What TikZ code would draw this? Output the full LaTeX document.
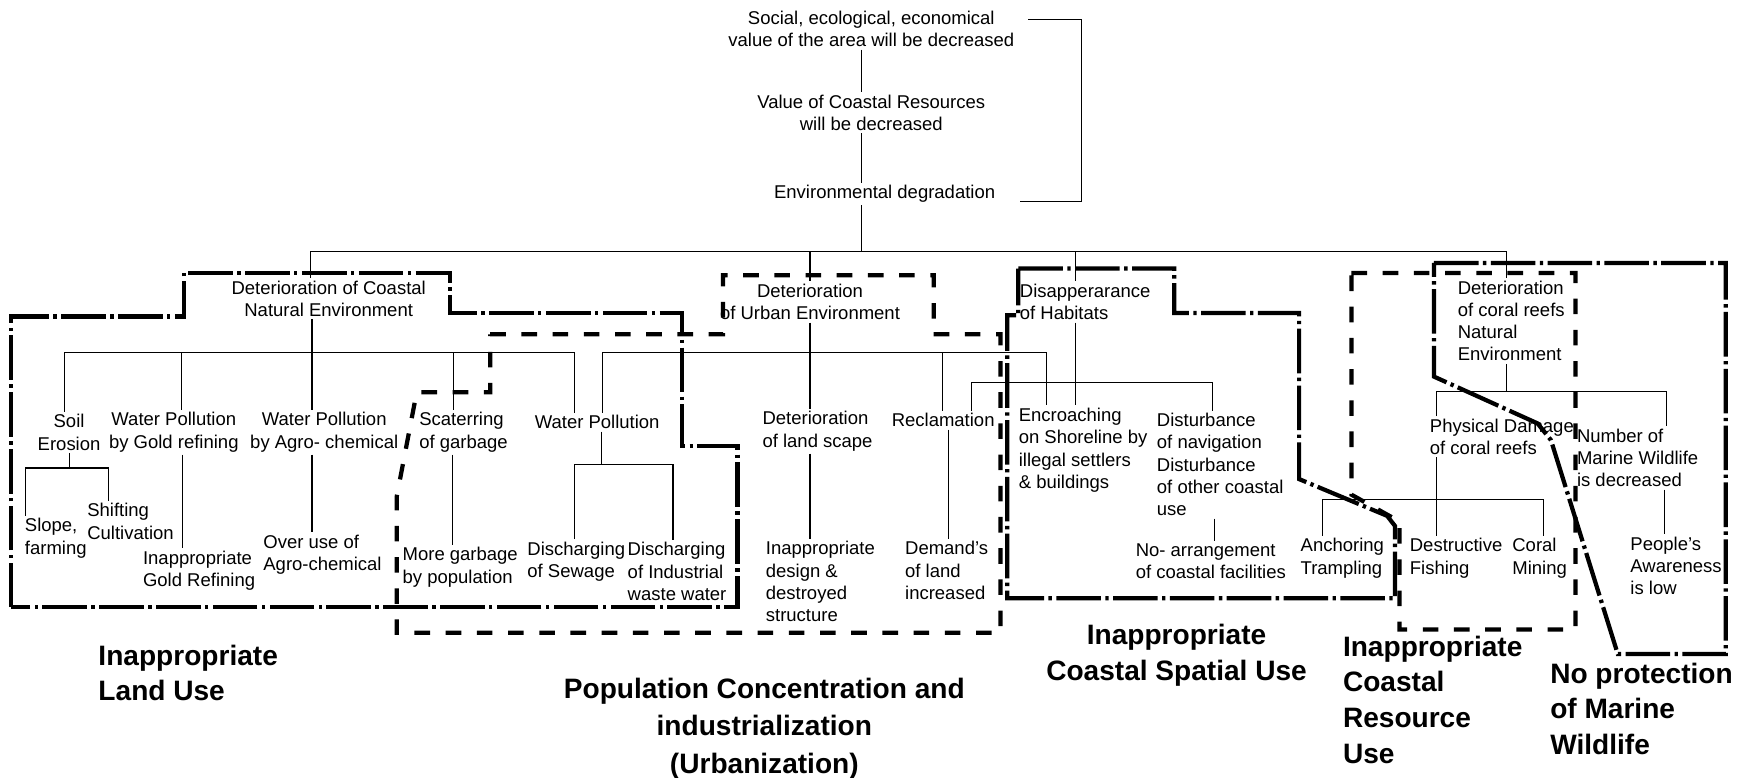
\documentclass[tikz,border=0pt]{standalone}
\usepackage{fontspec}
\setmainfont{Liberation Sans}
\usepackage{tikz}
\usetikzlibrary{calc}

\tikzset{
  lbl/.style={font=\fontsize{8.3}{10}\selectfont, inner sep=1pt, align=center},
  lbll/.style={lbl, align=left, anchor=west},
  zonename/.style={font=\fontsize{12.6}{16}\selectfont\bfseries, inner sep=0pt},
  link/.style={line width=0.5pt},
  zonedot/.style={line width=1.9pt, dash pattern=on 20pt off 2pt on 1.5pt off 2pt},
  zonedash/.style={line width=1.9pt, dash pattern=on 7pt off 7pt}
}

\begin{document}
\begin{tikzpicture}[x=0.5pt, y=-0.5pt]
        \def\ytop{226}
        \def\ynat{316}
        \def\yhab{343}
        \def\yreef{351}
        \useasboundingbox (0,0) rectangle (1568,698);

        % zones
        \draw[zonedot] (10,545) -- (10,284) -- (165,284) -- (165,245) -- (404,245) -- (404,281) -- (612,281) -- (612,400) -- (662,400) -- (662,545) -- cycle;
        \draw[zonedash] (440,300) -- (649,300) -- (649,247) -- (838,247) -- (838,300) -- (898,300) -- (898,568) -- (356,568) -- (356,446) -- (374,352) -- (440,352) -- cycle;
        \draw[zonedot] (914,241) -- (1054,241) -- (1054,281) -- (1166,281) -- (1166,430) -- (1245,463) -- (1252,472) -- (1252,537) -- (904,537) -- (904,283) -- (914,283) -- cycle;
        \draw[zonedash] (1213,245) -- (1414,245) -- (1414,565) -- (1256,565) -- (1256,468) -- (1213,444) -- cycle;
        \draw[zonedot] (1287,236) -- (1549,236) -- (1549,587) -- (1452,587) -- (1392,395) -- (1380,380) -- (1287,338) -- cycle;

        % top chain
        \node(value) [lbl] at (782,26) {Social, ecological, economical\\value of the area will be decreased};
        \node(resval) [lbl] at (782,101) {Value of Coastal Resources\\will be decreased};
        \node(degrad) [lbl] at (794,174) {Environmental degradation};
        \draw[link] (value.south -| 773,0) -- (resval.north -| 773,0);
        \draw[link] (resval.south -| 773,0) -- (degrad.north -| 773,0);
        \draw[link] (degrad.south -| 773,0) -- (773,\ytop);
        \draw[link] ([xshift=5pt,yshift=-5pt]value.north east) -| ([xshift=37.5pt,yshift=-3.5pt]degrad.east) -- ([xshift=10pt,yshift=-3.5pt]degrad.east);

        % second level
        \node(coast) [lbl] at (295,268) {Deterioration of Coastal\\Natural Environment};
        \node(urban) [lbl] at (727,271) {Deterioration\\of Urban Environment};
        \node(habitat) [lbll] at (913,271) {Disapperarance\\of Habitats};
        \node(coral) [lbll] at (1306,288) {Deterioration\\of coral reefs\\Natural\\Environment};
        \draw[link] (coast.north -| 279,0) -- (279,\ytop) -- (1352,\ytop) -- (coral.north -| 1352,0);
        \draw[link] (727,\ytop) -- (urban.north -| 727,0);
        \draw[link] (965,\ytop) -- (habitat.north -| 965,0);

        % third level
        \node(soil) [lbl] at (62,388) {Soil\\Erosion};
        \node(gold) [lbl] at (156,388) {Water Pollution\\by Gold refining};
        \node(agro) [lbl] at (291,388) {Water Pollution\\by Agro- chemical};
        \node(scat) [lbll] at (374,388) {Scaterring\\of garbage};
        \node(wp) [lbl] at (536,379) {Water Pollution};
        \node(scape) [lbll] at (682,387) {Deterioration\\of land scape};
        \node(recl) [lbll] at (798,377) {Reclamation};
        \node(encr) [lbll] at (912,404) {Encroaching\\on Shoreline by\\illegal settlers\\\& buildings};
        \node(disturb) [lbll] at (1036,417) {Disturbance\\of navigation\\Disturbance\\of other coastal\\use};
        \node(phys) [lbll] at (1281,392) {Physical Damage\\of coral reefs};
        \node(wildlife) [lbll] at (1413,411) {Number of\\Marine Wildlife\\is decreased};

        % coastal natural environment
        \draw[link] (coast.south -| 280,0) -- (agro.north -| 280,0);
        \draw[link] (soil.north -| 58,0) |- (516,\ynat) -- (wp.north -| 516,0);
        \foreach \xx/\nn in {163/gold, 407/scat}
            \draw[link] (\xx,\ynat) -- (\nn.north -| \xx,0);
        % urban environment
        \draw[link] (urban.south -| 727,0) -- (scape.north -| 727,0);
        \draw[link] (wp.north -| 541,0) |- (939,\ynat) -- (encr.north -| 939,0);
        \draw[link] (846,\ynat) -- (recl.north -| 846,0);
        % habitats
        \draw[link] (habitat.south -| 965,0) -- (encr.north -| 965,0);
        \draw[link] (recl.north -| 872,0) |- (1088,\yhab) -- (disturb.north -| 1088,0);
        % coral reefs
        \draw[link] (coral.south -| 1352,0) -- (1352,\yreef);
        \draw[link] (phys.north -| 1289,0) |- (1496,\yreef) -- (wildlife.north -| 1496,0);

        % fourth level
        \node(slope) [lbll] at (20,483) {Slope,\\farming};
        \node(shift) [lbll] at (76,468) {Shifting\\Cultivation};
        \node(goldref) [lbll] at (126,512) {Inappropriate\\Gold Refining};
        \node(overuse) [lbll] at (234,498) {Over use of\\Agro-chemical};
        \node(garbage) [lbll] at (359,509) {More garbage\\by population};
        \node(sewage) [lbll] at (471,504) {Discharging\\of Sewage};
        \node(industry) [lbll] at (561,513) {Discharging\\of Industrial\\waste water};
        \node(design) [lbll] at (685,522) {Inappropriate\\design \&\\destroyed\\structure};
        \node(demand) [lbll] at (810,512) {Demand's\\of land\\increased};
        \node(noarr) [lbll] at (1017,504) {No- arrangement\\of coastal facilities};
        \node(anchoring) [lbll] at (1165,501) {Anchoring\\Trampling};
        \node(fishing) [lbll] at (1263,501) {Destructive\\Fishing};
        \node(mining) [lbll] at (1355,501) {Coral\\Mining};
        \node(aware) [lbll] at (1461,508) {People's\\Awareness\\is low};

        \draw[link] (soil.south -| 62,0) -- (62,420);
        \draw[link] (slope.north -| 23,0) |- (97,420) -- (shift.north -| 97,0);
        \draw[link] (gold.south -| 164,0) -- (goldref.north -| 164,0);
        \draw[link] (agro.south -| 280,0) -- (overuse.north -| 280,0);
        \draw[link] (scat.south -| 406,0) -- (garbage.north -| 406,0);
        \draw[link] (wp.south -| 540,0) -- (540,417);
        \draw[link] (sewage.north -| 516,0) |- (604,417) -- (industry.north -| 604,0);
        \draw[link] (scape.south -| 727,0) -- (design.north -| 727,0);
        \draw[link] (recl.south -| 851,0) -- (demand.north -| 851,0);
        \draw[link] (disturb.south -| 1090,0) -- (noarr.north -| 1090,0);
        \draw[link] (phys.south -| 1289,0) -- (fishing.north -| 1289,0);
        \draw[link] (anchoring.north -| 1187,0) |- (1385,448) -- (mining.north -| 1385,0);
        \draw[link] (wildlife.south -| 1494,0) -- (aware.north -| 1494,0);

        % zone names
        \node(landuse) [zonename, align=left, anchor=west] at (88,604) {Inappropriate\\Land Use};
        \node(urbanize) [zonename, align=center, font=\fontsize{12.6}{17}\selectfont\bfseries] at (686,654) {Population Concentration and\\industrialization\\(Urbanization)};
        \node(spatial) [zonename, align=center] at (1056,588) {Inappropriate\\Coastal Spatial Use};
        \node(resource) [zonename, align=left, anchor=west] at (1205,628) {Inappropriate\\Coastal\\Resource\\Use};
        \node(protect) [zonename, align=left, anchor=west] at (1391,636) {No protection\\of Marine\\Wildlife};
    \end{tikzpicture}
\end{document}
